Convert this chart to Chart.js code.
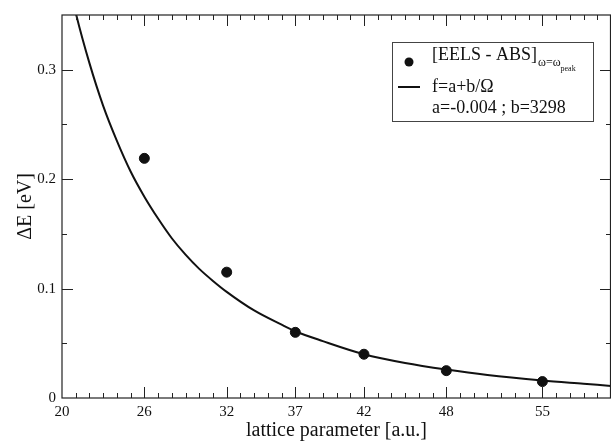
<!DOCTYPE html>
<html>
<head>
<meta charset="utf-8">
<script src="https://cdn.jsdelivr.net/npm/chart.js@4.4.1/dist/chart.umd.min.js"></script>
<style>
  html, body { margin: 0; padding: 0; background: #fff; }
  #wrap { width: 611px; height: 443px; position: relative; }
</style>
</head>
<body>
<div id="wrap"><canvas id="chart" width="611" height="443"></canvas></div>
<script>
// measured points [EELS - ABS]
var latticeParams = [26, 32, 37, 42, 48, 55];
var deltaE = [0.219, 0.115, 0.060, 0.040, 0.025, 0.015];

// fitted curve f = a + b/Omega
var curveX = [20, 21, 22, 23, 24, 25, 26, 27, 28, 29, 30, 31, 32, 34, 36, 37, 39, 42, 45, 48, 51, 55, 58, 60];
var curveY = [0.408, 0.352, 0.306, 0.267, 0.235, 0.207, 0.184, 0.164, 0.146, 0.131, 0.118, 0.107, 0.097,
              0.080, 0.067, 0.061, 0.052, 0.040, 0.032, 0.026, 0.021, 0.016, 0.013, 0.011];

var xTicks = [20, 26, 32, 37, 42, 48, 55];
var yTicks = [0, 0.1, 0.2, 0.3];

var serif = '"Liberation Serif", "DejaVu Serif", serif';

// frame + inward ticks, xmgrace style
var frameTicks = {
    id: 'frameTicks',
    afterDraw: function (chart) {
        var ctx = chart.ctx;
        var a = chart.chartArea;
        var xs = chart.scales.x;
        var ys = chart.scales.y;
        ctx.save();
        ctx.strokeStyle = '#222';
        ctx.lineWidth = 1.2;
        ctx.strokeRect(a.left, a.top, a.right - a.left - 0.5, a.bottom - a.top);

        ctx.beginPath();
        for (var v = 21; v < 60; v++) {
            var px = Math.round(xs.getPixelForValue(v)) + 0.5;
            var len = xTicks.indexOf(v) >= 0 ? 11 : 5;
            ctx.moveTo(px, a.bottom); ctx.lineTo(px, a.bottom - len);
            ctx.moveTo(px, a.top); ctx.lineTo(px, a.top + len);
        }
        for (var k = 1; k < 7; k++) {
            var val = k * 0.05;
            var py = Math.round(ys.getPixelForValue(val)) + 0.5;
            var l2 = k % 2 === 0 ? 11 : 5;
            ctx.moveTo(a.left, py); ctx.lineTo(a.left + l2, py);
            ctx.moveTo(a.right, py); ctx.lineTo(a.right - l2, py);
        }
        ctx.lineWidth = 1;
        ctx.stroke();
        ctx.restore();
    }
};

// legend with subscript, drawn inside the plot
var boxLegend = {
    id: 'boxLegend',
    afterDraw: function (chart) {
        var ctx = chart.ctx;
        var x0 = 392, y0 = 42, w = 201, h = 79;
        ctx.save();
        ctx.fillStyle = '#fff';
        ctx.fillRect(x0, y0, w, h);
        ctx.strokeStyle = '#444';
        ctx.lineWidth = 1;
        ctx.strokeRect(x0 + 0.5, y0 + 0.5, w, h);

        ctx.fillStyle = '#111';
        ctx.beginPath();
        ctx.arc(409, 62, 4.5, 0, Math.PI * 2);
        ctx.fill();

        ctx.strokeStyle = '#111';
        ctx.lineWidth = 2;
        ctx.beginPath();
        ctx.moveTo(398, 87); ctx.lineTo(420, 87);
        ctx.stroke();

        ctx.textBaseline = 'alphabetic';
        ctx.textAlign = 'left';
        ctx.font = '18px ' + serif;
        ctx.fillText('[EELS - ABS]', 432, 60);
        var wEels = ctx.measureText('[EELS - ABS]').width;
        ctx.font = '12px ' + serif;
        ctx.fillText('\u03c9=\u03c9', 432 + wEels + 1, 66);
        var wOm = ctx.measureText('\u03c9=\u03c9').width;
        ctx.font = '8px ' + serif;
        ctx.fillText('peak', 432 + wEels + 1 + wOm, 71);

        ctx.font = '18px ' + serif;
        ctx.fillText('f=a+b/\u03a9', 432, 92);
        ctx.fillText('a=-0.004 ; b=3298', 432, 113);
        ctx.restore();
    }
};

var pts = latticeParams.map(function (x, i) { return { x: x, y: deltaE[i] }; });
var curve = curveX.map(function (x, i) { return { x: x, y: curveY[i] }; });

new Chart(document.getElementById('chart'), {
    type: 'scatter',
    data: {
        datasets: [{
            label: 'fit',
            type: 'line',
            data: curve,
            borderColor: '#111',
            borderWidth: 2,
            pointRadius: 0,
            cubicInterpolationMode: 'monotone',
            fill: false
        }, {
            label: '[EELS - ABS]',
            data: pts,
            backgroundColor: '#111',
            borderColor: '#111',
            pointRadius: 5,
            pointHoverRadius: 5
        }]
    },
    options: {
        responsive: false,
        animation: false,
        devicePixelRatio: 1,
        layout: { autoPadding: false, padding: { top: 13, right: 0, left: 0, bottom: 0 } },
        plugins: {
            legend: { display: false },
            tooltip: { enabled: false }
        },
        scales: {
            x: {
                type: 'linear',
                min: 20,
                max: 60,
                afterBuildTicks: function (scale) {
                    scale.ticks = xTicks.map(function (v) { return { value: v }; });
                },
                afterFit: function (scale) {
                    scale.height = 45;
                },
                grid: { display: false, drawTicks: false },
                border: { display: false },
                ticks: {
                    padding: 5,
                    color: '#111',
                    font: { family: serif, size: 15 },
                    maxRotation: 0,
                    callback: function (v) { return String(v); }
                },
                title: {
                    display: true,
                    text: 'lattice parameter [a.u.]',
                    color: '#111',
                    font: { family: serif, size: 20 },
                    padding: { top: 0, bottom: 0 }
                }
            },
            y: {
                type: 'linear',
                min: 0,
                max: 0.35,
                afterBuildTicks: function (scale) {
                    scale.ticks = yTicks.map(function (v) { return { value: v }; });
                },
                afterFit: function (scale) {
                    scale.width = 62;
                },
                grid: { display: false, drawTicks: false },
                border: { display: false },
                ticks: {
                    padding: 6,
                    color: '#111',
                    font: { family: serif, size: 15 },
                    callback: function (v) { return v === 0 ? '0' : v.toFixed(1); }
                },
                title: {
                    display: true,
                    text: '\u0394E [eV]',
                    color: '#111',
                    font: { family: serif, size: 20 },
                    padding: { top: 14, bottom: 0 }
                }
            }
        }
    },
    plugins: [frameTicks, boxLegend]
});
</script>
</body>
</html>
